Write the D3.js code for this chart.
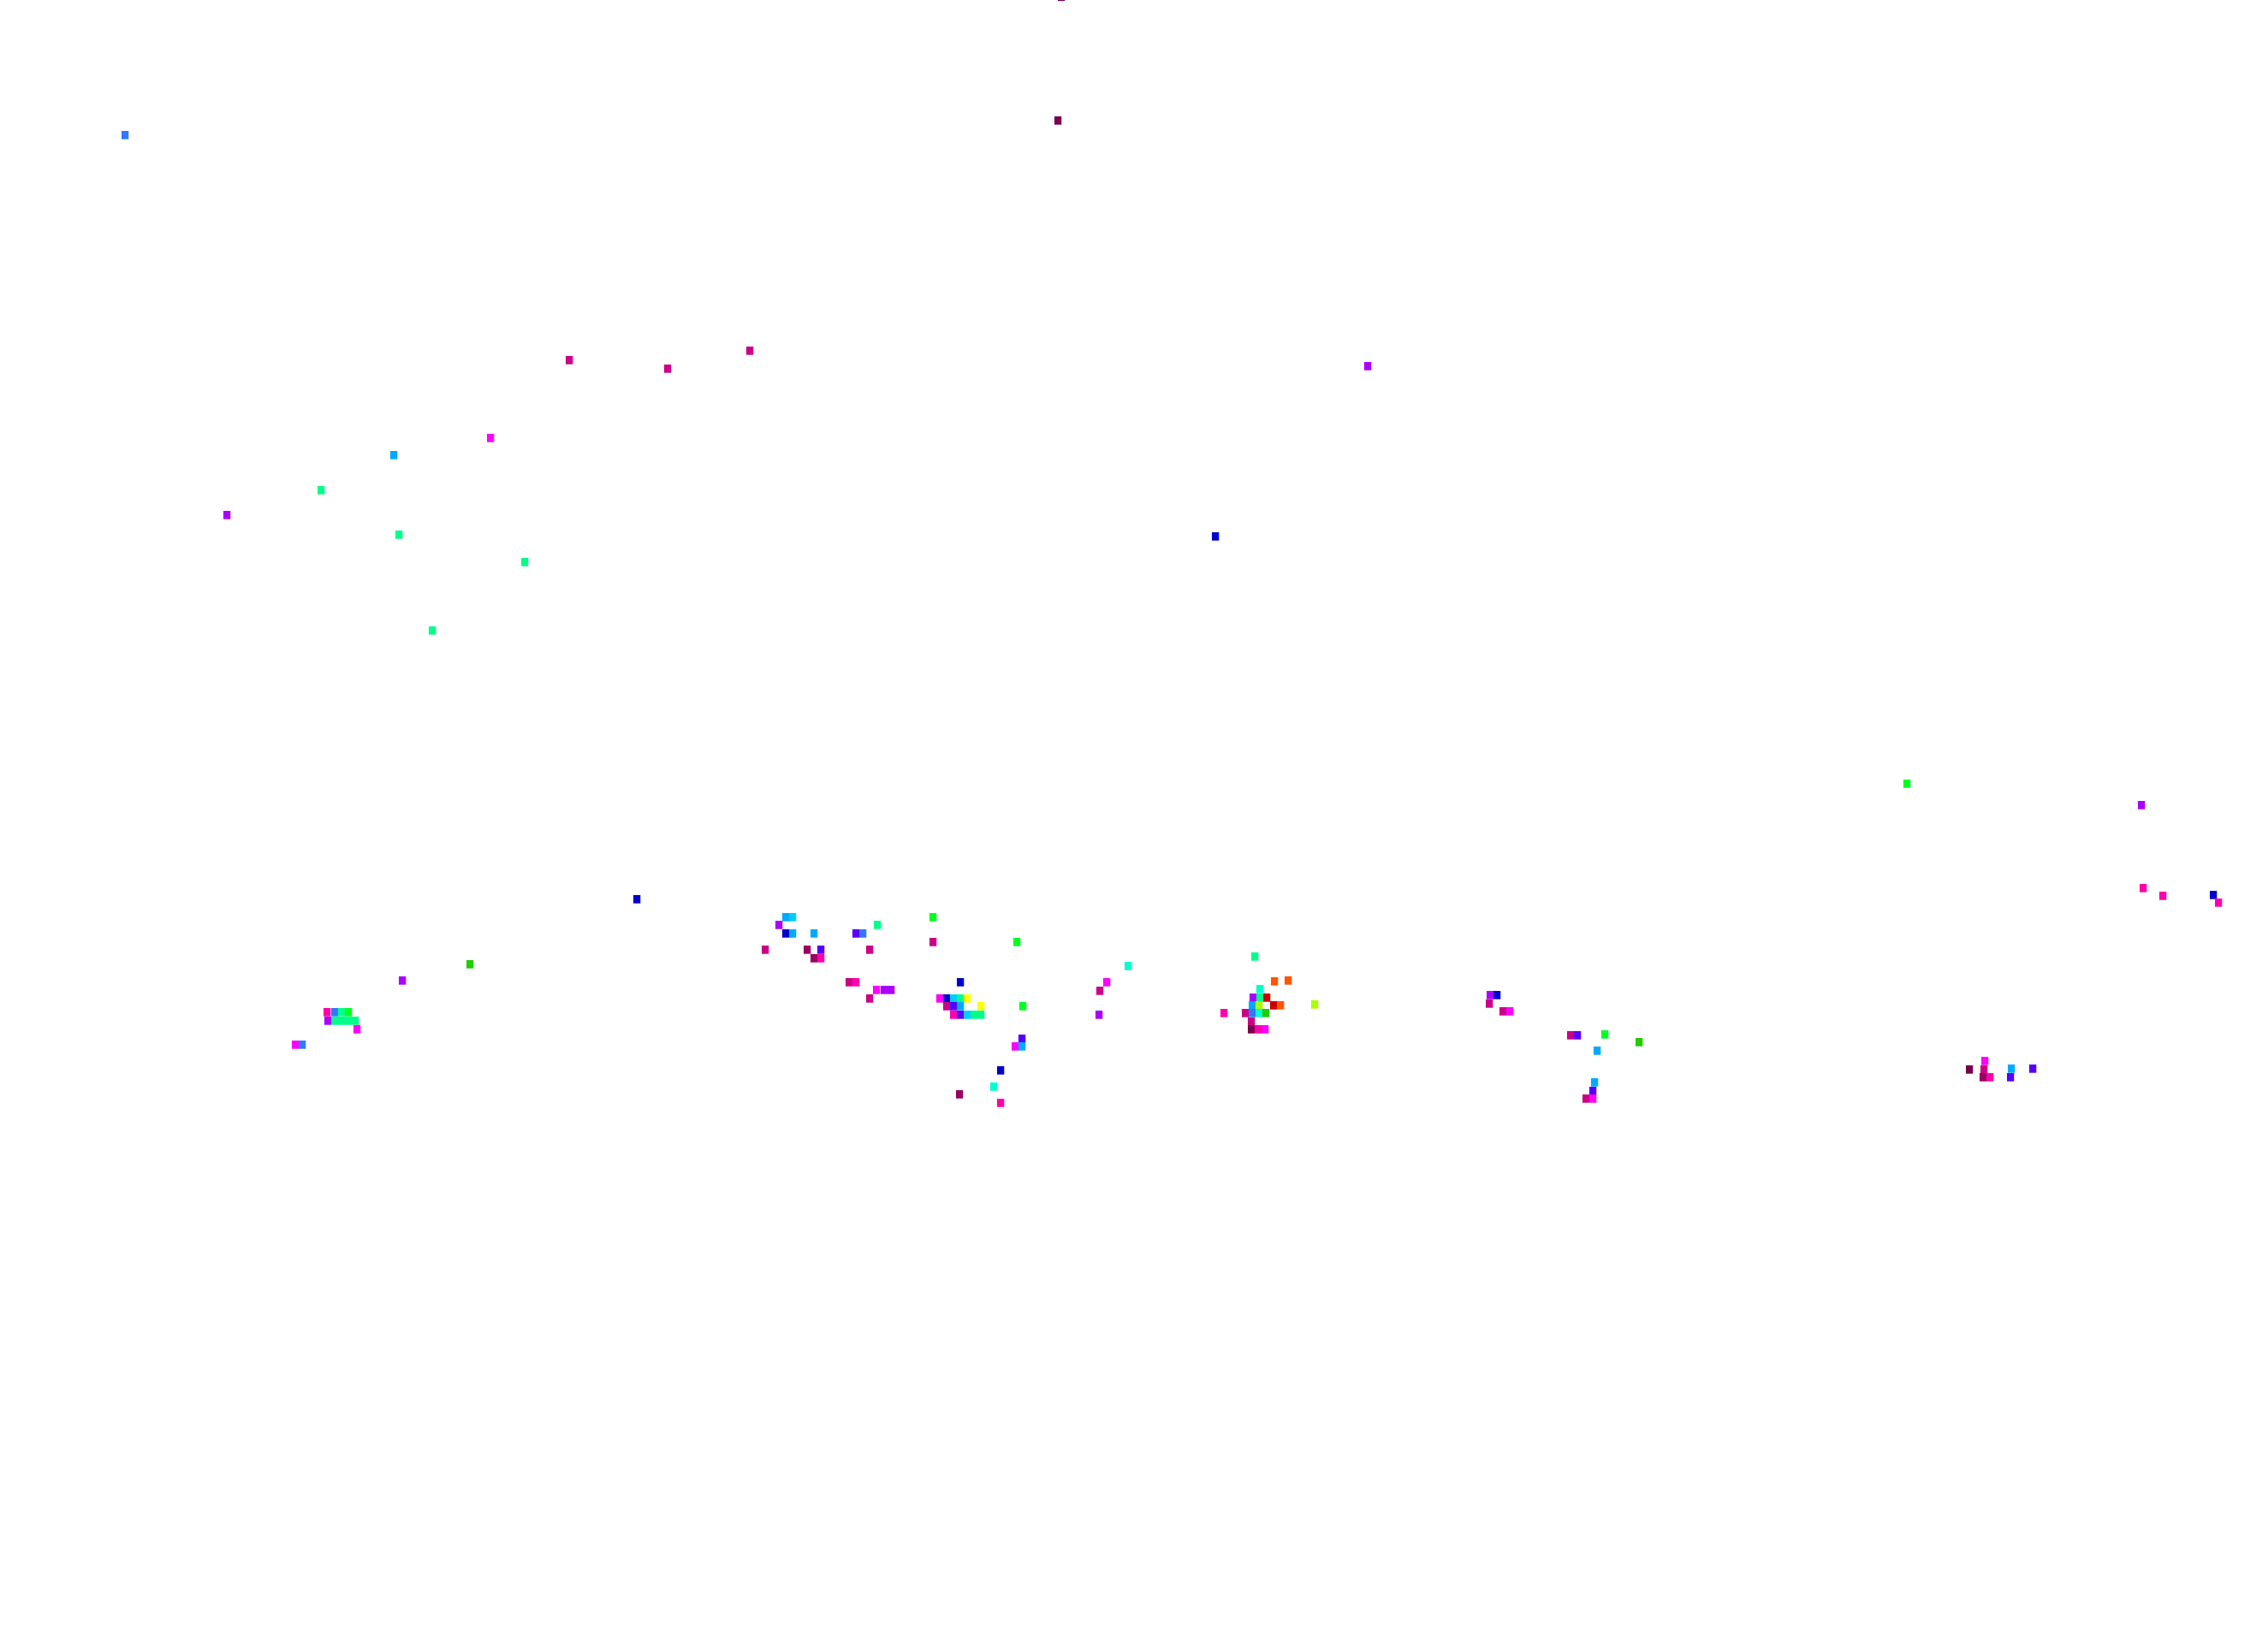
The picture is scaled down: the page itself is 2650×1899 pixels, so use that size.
<!DOCTYPE html>
<html>
<head>
<meta charset="utf-8">
<script src="https://cdn.jsdelivr.net/npm/d3@7"></script>
<style>
  html, body { margin: 0; padding: 0; background: #ffffff; }
  svg { display: block; }
</style>
</head>
<body>
<div id="chart"></div>
<script>
// Cell positions (grid units, 1 unit = 1/265 of width) and value classes
const xs = [
  123.6,123.2,14.2,66.1,77.6,87.2,159.4,56.9,45.6,37.1,26.1,46.2,60.9,141.6,50.1,
  222.4,249.8,250.0,252.3,258.2,258.8,
  74.0,54.5,46.6,
  37.8,38.7,39.5,40.3,37.9,38.7,39.5,40.3,41.1,41.3,34.1,34.9,
  91.4,92.2,90.6,91.4,92.2,94.7,99.6,100.4,102.1,108.6,108.6,118.4,
  89.0,93.9,95.5,101.2,94.7,95.5,98.8,99.6,102.0,102.9,103.7,101.2,111.8,
  109.4,110.2,111.0,111.8,112.6,
  110.2,111.0,111.8,114.2,119.1,
  111.0,111.8,112.6,113.4,114.2,
  131.4,128.9,128.1,128.0,119.0,118.2,119.0,116.5,115.7,111.7,116.5,
  146.2,148.5,150.1,146.8,146.0,146.8,147.6,145.9,146.7,148.4,149.2,153.2,
  142.6,145.1,145.9,146.7,147.5,145.8,145.8,146.6,147.4,
  173.7,174.5,173.6,175.2,176.0,183.1,183.9,187.1,191.1,186.2,185.9,185.7,184.9,185.7,
  229.7,231.5,231.4,231.3,232.1,234.6,234.5,237.1
];
const ys = [
  -0.86,13.6,15.3,41.6,42.6,40.5,42.3,50.7,52.7,56.8,59.7,62.0,65.2,62.2,73.2,
  91.1,93.6,103.3,104.2,104.1,105.0,
  104.6,112.2,114.1,
  117.8,117.8,117.8,117.8,118.8,118.8,118.8,118.8,118.8,119.8,121.6,121.6,
  106.7,106.7,107.6,108.6,108.6,108.6,108.6,108.6,107.6,106.7,109.6,109.6,
  110.5,110.5,110.5,110.5,111.5,111.5,114.3,114.3,115.2,115.2,115.2,116.2,114.3,
  116.2,116.2,116.2,116.2,116.2,
  117.1,117.1,117.1,117.1,117.1,
  118.1,118.1,118.1,118.1,118.1,
  112.4,114.3,115.3,118.1,120.9,121.8,121.8,124.6,126.5,127.4,128.4,
  111.3,114.2,114.1,115.1,116.1,116.1,116.1,117.0,117.0,117.0,117.0,116.9,
  117.9,117.9,117.9,117.9,117.9,118.9,119.8,119.8,119.8,
  115.8,115.8,116.8,117.7,117.7,120.5,120.5,120.4,121.3,122.3,126.0,127.0,127.9,127.9,
  124.5,123.5,124.5,125.4,125.4,124.4,125.4,124.4
];
const vals = [
  0,0,8,2,2,2,5,4,9,12,5,12,12,7,12,
  13,5,3,3,7,3,
  7,14,5,
  3,8,12,13,5,12,12,12,12,4,4,8,
  9,10,5,7,9,9,6,8,12,13,2,13,
  2,1,6,2,1,3,2,3,4,5,5,2,7,
  4,7,10,12,16,
  2,6,9,16,13,
  3,6,10,12,12,
  11,4,2,5,6,4,9,7,11,1,3,
  12,17,17,11,5,12,18,9,15,18,17,15,
  3,2,8,11,14,2,0,3,4,
  5,7,2,2,4,2,6,13,14,9,9,6,2,4,
  0,4,2,1,3,9,6,6
];
const classes = d3.range(19);

// Styles
const palette = [
  "#7a0050","#990066","#cc0088","#ff00aa","#ff00ff","#aa00ff","#5500ff",
  "#0000cc","#3377ff","#00aaff","#00ccff","#00ffcc","#00ff88","#00ff22",
  "#22cc00","#aaff00","#ffff00","#ff5500","#cc0000"
];
const W = 2650, H = 1899;
const cellW = 0.83, cellH = 0.97;

const x = d3.scaleLinear().domain([0, 265]).range([0, W]);
const y = d3.scaleLinear().domain([0, 189.9]).range([0, H]);
const color = d3.scaleOrdinal().domain(classes).range(palette);

const svg = d3.select("#chart").append("svg")
  .attr("width", W).attr("height", H)
  .attr("viewBox", `0 0 ${W} ${H}`);

svg.append("rect").attr("width", W).attr("height", H).attr("fill", "#ffffff");

const cells = xs.map((d, i) => ({ x: d, y: ys[i], v: vals[i] }));

svg.append("g").selectAll("rect")
  .data(cells)
  .join("rect")
  .attr("x", d => x(d.x))
  .attr("y", d => y(d.y))
  .attr("width", x(cellW) - x(0))
  .attr("height", y(cellH) - y(0))
  .attr("fill", d => color(d.v));
</script>
</body>
</html>
